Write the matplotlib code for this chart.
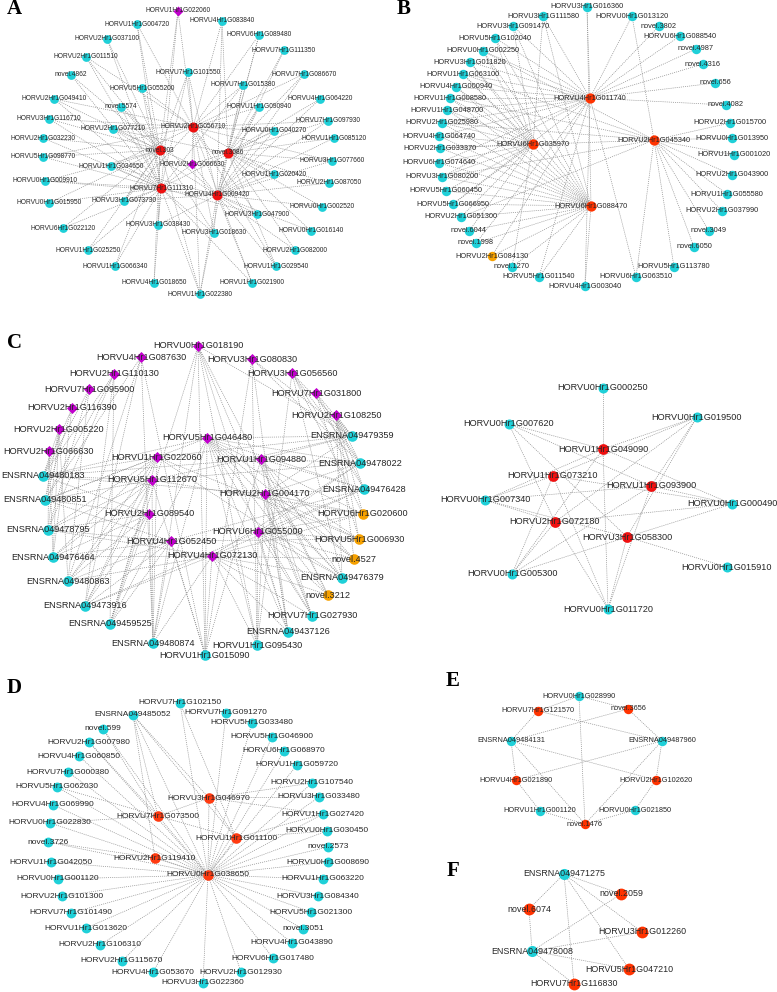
import matplotlib
matplotlib.use("Agg")
import matplotlib.pyplot as plt
from matplotlib.collections import LineCollection

plt.rcParams['font.family'] = ['Liberation Sans', 'DejaVu Sans']

# node tuples: (name, x, y, kind, links)
# kind: c = cyan, r = red, p = purple diamond, o = orange
# links: letters pointing at earlier nodes of the same list (a = first, b = second ...)

A_nodes = [
    ("HORVU2Hr1G056710", 193, 127, "r", ""),
    ("novel.303", 160, 150, "r", ""),
    ("novel.3086", 228, 153, "r", ""),
    ("HORVU7Hr1G111310", 161, 188, "r", ""),
    ("HORVU4Hr1G009420", 217, 195, "r", ""),
    ("HORVU1Hr1G022060", 178, 11, "p", "abd"),
    ("HORVU2Hr1G066630", 192, 164, "p", "abcde"),
    ("HORVU1Hr1G004720", 137, 24, "c", "abd"),
    ("HORVU4Hr1G083840", 222, 21, "c", "ace"),
    ("HORVU2Hr1G037100", 107, 39, "c", "bd"),
    ("HORVU6Hr1G089480", 259, 35, "c", "ace"),
    ("HORVU7Hr1G111350", 284, 50, "c", "ce"),
    ("HORVU2Hr1G011510", 86, 57, "c", "abd"),
    ("HORVU7Hr1G101550", 188, 72, "c", "abde"),
    ("novel.4862", 71, 75, "c", "bd"),
    ("HORVU7Hr1G086670", 304, 74, "c", "ace"),
    ("HORVU7Hr1G015380", 243, 85, "c", "acde"),
    ("HORVU5Hr1G055200", 142, 88, "c", "abd"),
    ("HORVU2Hr1G049410", 54, 99, "c", "abd"),
    ("HORVU4Hr1G064220", 320, 99, "c", "ce"),
    ("novel.5574", 121, 107, "c", "bde"),
    ("HORVU1Hr1G090940", 259, 107, "c", "ace"),
    ("HORVU3Hr1G116710", 49, 119, "c", "abd"),
    ("HORVU7Hr1G097930", 328, 121, "c", "ace"),
    ("HORVU2Hr1G077210", 113, 129, "c", "abce"),
    ("HORVU0Hr1G040270", 274, 131, "c", "acde"),
    ("HORVU2Hr1G032230", 43, 138, "c", "bd"),
    ("HORVU1Hr1G085120", 334, 138, "c", "ce"),
    ("HORVU5Hr1G098770", 43, 157, "c", "abd"),
    ("HORVU3Hr1G077660", 332, 161, "c", "ace"),
    ("HORVU1Hr1G034650", 111, 166, "c", "abde"),
    ("HORVU1Hr1G020420", 274, 174, "c", "ace"),
    ("HORVU0Hr1G009910", 45, 181, "c", "bde"),
    ("HORVU2Hr1G087050", 329, 183, "c", "ce"),
    ("HORVU0Hr1G015950", 49, 203, "c", "bd"),
    ("HORVU3Hr1G073730", 124, 201, "c", "abde"),
    ("HORVU0Hr1G002520", 322, 207, "c", "ce"),
    ("HORVU3Hr1G047900", 257, 214, "c", "ade"),
    ("HORVU3Hr1G038430", 158, 225, "c", "bde"),
    ("HORVU6Hr1G022120", 63, 228, "c", "bd"),
    ("HORVU0Hr1G016140", 311, 231, "c", "ce"),
    ("HORVU3Hr1G018630", 214, 233, "c", "abde"),
    ("HORVU1Hr1G025250", 88, 250, "c", "bd"),
    ("HORVU2Hr1G082000", 295, 250, "c", "ce"),
    ("HORVU1Hr1G066340", 115, 266, "c", "bd"),
    ("HORVU1Hr1G029540", 276, 266, "c", "ace"),
    ("HORVU4Hr1G018650", 154, 283, "c", "bd"),
    ("HORVU1Hr1G021900", 252, 283, "c", "ade"),
    ("HORVU1Hr1G022380", 200, 294, "c", "abcde"),
]

B_nodes = [
    ("HORVU4Hr1G011740", 590, 98, "r", ""),
    ("HORVU6Hr1G035970", 533, 144, "r", ""),
    ("HORVU2Hr1G045340", 654, 140, "r", ""),
    ("HORVU6Hr1G088470", 591, 206, "r", ""),
    ("HORVU3Hr1G016360", 587, 7, "c", "ad"),
    ("HORVU3Hr1G111580", 543, 16, "c", "abd"),
    ("HORVU0Hr1G013120", 632, 16, "c", "ac"),
    ("HORVU3Hr1G091470", 513, 26, "c", "abd"),
    ("novel.3802", 659, 26, "c", "a"),
    ("HORVU5Hr1G102040", 495, 38, "c", "abd"),
    ("HORVU6Hr1G088540", 680, 36, "c", "a"),
    ("HORVU0Hr1G002250", 483, 51, "c", "abcd"),
    ("novel.4987", 696, 49, "c", "a"),
    ("HORVU3Hr1G011820", 470, 62, "c", "abd"),
    ("novel.4316", 703, 64, "c", "a"),
    ("HORVU1Hr1G063100", 463, 74, "c", "abcd"),
    ("HORVU4Hr1G000940", 456, 87, "c", "abd"),
    ("novel.656", 715, 83, "c", "a"),
    ("HORVU1Hr1G008580", 450, 98, "c", "abcd"),
    ("novel.4082", 726, 105, "c", "a"),
    ("HORVU1Hr1G048700", 447, 110, "c", "abd"),
    ("HORVU2Hr1G025980", 442, 123, "c", "abcd"),
    ("HORVU2Hr1G015700", 730, 123, "c", "c"),
    ("HORVU4Hr1G064740", 439, 136, "c", "abd"),
    ("HORVU0Hr1G013950", 732, 138, "c", "c"),
    ("HORVU2Hr1G033370", 440, 148, "c", "bcd"),
    ("HORVU1Hr1G001020", 734, 155, "c", "c"),
    ("HORVU6Hr1G074640", 439, 163, "c", "abd"),
    ("HORVU2Hr1G043900", 732, 175, "c", "c"),
    ("HORVU3Hr1G080200", 442, 177, "c", "abcd"),
    ("HORVU5Hr1G060450", 446, 191, "c", "bd"),
    ("HORVU1Hr1G055580", 727, 194, "c", "c"),
    ("HORVU5Hr1G066950", 453, 204, "c", "abd"),
    ("HORVU2Hr1G037990", 722, 211, "c", "c"),
    ("HORVU2Hr1G051300", 461, 217, "c", "bcd"),
    ("novel.6044", 469, 231, "c", "bd"),
    ("novel.3049", 709, 231, "c", "c"),
    ("novel.1998", 476, 243, "c", "ad"),
    ("novel.6050", 694, 247, "c", "c"),
    ("HORVU2Hr1G084130", 492, 256, "o", "ad"),
    ("novel.1270", 512, 267, "c", "bd"),
    ("HORVU5Hr1G113780", 674, 267, "c", "c"),
    ("HORVU5Hr1G011540", 539, 277, "c", "ad"),
    ("HORVU6Hr1G063510", 636, 277, "c", "ac"),
    ("HORVU4Hr1G003040", 585, 286, "c", "ad"),
]

C1_nodes = [
    ("HORVU0Hr1G018190", 198, 346, "p", ""),
    ("HORVU4Hr1G087630", 141, 357, "p", ""),
    ("HORVU3Hr1G080830", 252, 359, "p", ""),
    ("HORVU2Hr1G110130", 114, 374, "p", ""),
    ("HORVU3Hr1G056560", 292, 373, "p", ""),
    ("HORVU7Hr1G095900", 89, 389, "p", ""),
    ("HORVU7Hr1G031800", 316, 393, "p", ""),
    ("HORVU2Hr1G116390", 72, 408, "p", ""),
    ("HORVU2Hr1G108250", 336, 415, "p", ""),
    ("HORVU2Hr1G005220", 59, 429, "p", ""),
    ("HORVU5Hr1G046480", 207, 438, "p", ""),
    ("HORVU2Hr1G066630", 49, 451, "p", ""),
    ("HORVU1Hr1G022060", 157, 457, "p", ""),
    ("HORVU1Hr1G094880", 261, 459, "p", ""),
    ("HORVU5Hr1G112670", 152, 480, "p", ""),
    ("HORVU2Hr1G004170", 265, 494, "p", ""),
    ("HORVU2Hr1G089540", 149, 514, "p", ""),
    ("HORVU6Hr1G055000", 258, 532, "p", ""),
    ("HORVU4Hr1G052450", 171, 541, "p", ""),
    ("HORVU4Hr1G072130", 212, 556, "p", ""),
    ("ENSRNA049479359", 352, 436, "c", "acegikmnop"),
    ("ENSRNA049478022", 360, 463, "c", "cegiknoprt"),
    ("ENSRNA049480183", 43, 476, "c", "dfhjkmnopq"),
    ("ENSRNA049476428", 364, 489, "c", "egiknprst"),
    ("ENSRNA049480851", 45, 500, "c", "bdhjkmoqs"),
    ("ENSRNA049478795", 48, 530, "c", "dfjlmoqst"),
    ("ENSRNA049476464", 53, 557, "c", "hjlmoqst"),
    ("ENSRNA049480863", 68, 581, "c", "bfjmoqst"),
    ("ENSRNA049476379", 342, 578, "c", "eikmnprt"),
    ("ENSRNA049473916", 85, 606, "c", "bdmoqrst"),
    ("HORVU7Hr1G027930", 312, 616, "c", "aknprt"),
    ("ENSRNA049459525", 110, 624, "c", "adkmoqs"),
    ("ENSRNA049437126", 288, 632, "c", "acknprt"),
    ("ENSRNA049480874", 153, 643, "c", "abkmoqst"),
    ("HORVU1Hr1G015090", 205, 655, "c", "abcknost"),
    ("HORVU1Hr1G095430", 257, 645, "c", "acekprt"),
    ("HORVU6Hr1G020600", 363, 514, "o", "eikoprt"),
    ("HORVU5Hr1G006930", 359, 539, "o", "gikmprs"),
    ("novel.4527", 354, 559, "o", "iknprt"),
    ("novel.3212", 328, 595, "o", "aknrt"),
]

C2_nodes = [
    ("HORVU1Hr1G049090", 603, 449, "r", ""),
    ("HORVU1Hr1G073210", 553, 476, "r", ""),
    ("HORVU1Hr1G093900", 651, 486, "r", ""),
    ("HORVU2Hr1G072180", 555, 522, "r", ""),
    ("HORVU3Hr1G058300", 627, 537, "r", ""),
    ("HORVU0Hr1G000250", 603, 388, "c", "a"),
    ("HORVU0Hr1G019500", 697, 417, "c", "abcde"),
    ("HORVU0Hr1G007620", 509, 424, "c", "acde"),
    ("HORVU0Hr1G007340", 485, 500, "c", "abcde"),
    ("HORVU0Hr1G000490", 732, 504, "c", "abcde"),
    ("HORVU0Hr1G005300", 512, 574, "c", "abcde"),
    ("HORVU0Hr1G015910", 727, 567, "c", "e"),
    ("HORVU0Hr1G011720", 608, 609, "c", "abcde"),
]

D_nodes = [
    ("HORVU3Hr1G046970", 209, 798, "r", ""),
    ("HORVU7Hr1G073500", 158, 816, "r", "a"),
    ("HORVU1Hr1G011100", 236, 838, "r", "ab"),
    ("HORVU2Hr1G119410", 155, 858, "r", ""),
    ("HORVU0Hr1G038650", 208, 875, "r", "abcd"),
    ("HORVU7Hr1G102150", 180, 703, "c", "ce"),
    ("ENSRNA049485052", 133, 715, "c", "abcde"),
    ("HORVU7Hr1G091270", 226, 713, "c", "e"),
    ("novel.599", 103, 729, "c", "be"),
    ("HORVU5Hr1G033480", 252, 723, "c", "e"),
    ("HORVU2Hr1G007980", 89, 742, "c", "be"),
    ("HORVU5Hr1G046900", 272, 737, "c", "e"),
    ("HORVU4Hr1G060850", 79, 756, "c", "e"),
    ("HORVU6Hr1G068970", 284, 751, "c", "e"),
    ("HORVU7Hr1G000380", 68, 772, "c", "e"),
    ("HORVU1Hr1G059720", 297, 765, "c", "e"),
    ("HORVU5Hr1G062030", 57, 787, "c", "be"),
    ("HORVU2Hr1G107540", 312, 783, "c", "ae"),
    ("HORVU3Hr1G033480", 319, 797, "c", "ae"),
    ("HORVU4Hr1G069990", 53, 805, "c", "e"),
    ("HORVU1Hr1G027420", 323, 814, "c", "ace"),
    ("HORVU0Hr1G022830", 50, 823, "c", "be"),
    ("HORVU0Hr1G030450", 327, 831, "c", "ce"),
    ("novel.3726", 48, 842, "c", "de"),
    ("novel.2573", 328, 847, "c", "e"),
    ("HORVU1Hr1G042050", 51, 862, "c", "e"),
    ("HORVU0Hr1G008690", 328, 862, "c", "e"),
    ("HORVU0Hr1G001120", 58, 879, "c", "e"),
    ("HORVU1Hr1G063220", 323, 879, "c", "e"),
    ("HORVU2Hr1G101300", 62, 896, "c", "e"),
    ("HORVU3Hr1G084340", 318, 896, "c", "e"),
    ("HORVU7Hr1G101490", 71, 913, "c", "e"),
    ("HORVU5Hr1G021300", 311, 912, "c", "e"),
    ("HORVU1Hr1G013620", 86, 928, "c", "e"),
    ("novel.3051", 303, 929, "c", "e"),
    ("HORVU2Hr1G106310", 100, 945, "c", "e"),
    ("HORVU4Hr1G043890", 292, 943, "c", "e"),
    ("HORVU6Hr1G017480", 273, 958, "c", "e"),
    ("HORVU2Hr1G115670", 122, 961, "c", "e"),
    ("HORVU4Hr1G053670", 153, 972, "c", "e"),
    ("HORVU2Hr1G012930", 241, 972, "c", "e"),
    ("HORVU3Hr1G022360", 203, 983, "c", "e"),
]

E_nodes = [
    ("HORVU7Hr1G121570", 538, 711, "r", ""),
    ("novel.3656", 628, 709, "r", ""),
    ("HORVU4Hr1G021890", 516, 780, "r", ""),
    ("HORVU2Hr1G102620", 656, 780, "r", ""),
    ("novel.1476", 585, 824, "r", ""),
    ("HORVU0Hr1G028990", 579, 696, "c", "abe"),
    ("ENSRNA049484131", 511, 741, "c", "abcde"),
    ("ENSRNA049487960", 662, 741, "c", "abcde"),
    ("HORVU1Hr1G001120", 540, 811, "c", "ce"),
    ("HORVU0Hr1G021850", 635, 810, "c", "de"),
]

F_nodes = [
    ("novel.2059", 621, 894, "r", ""),
    ("novel.6074", 529, 909, "r", ""),
    ("HORVU3Hr1G012260", 642, 932, "r", ""),
    ("HORVU5Hr1G047210", 629, 969, "r", ""),
    ("HORVU7Hr1G116830", 574, 984, "r", ""),
    ("ENSRNA049471275", 564, 874, "c", "abcde"),
    ("ENSRNA049478008", 532, 951, "c", "abcde"),
]

panel_letters = ["A", "B", "C", "D", "E", "F"]
letter_pos = [(14, 9), (404, 9), (14, 343), (14, 688), (453, 681), (453, 871)]

CYAN = "#1fd0d8"
PURPLE = "#c000cc"
ORANGE = "#f6a100"


def draw(ax, nodes, red, fs, sc, sr, sd=30):
    segs = []
    for name, x, y, kind, links in nodes:
        for ch in links:
            j = ord(ch) - 97
            segs.append([(x, y), (nodes[j][1], nodes[j][2])])
    ax.add_collection(LineCollection(segs, colors="#8f8f8f", linewidths=0.5,
                                     linestyles=(0, (1.5, 1.5)), zorder=1))
    colors = {"c": CYAN, "r": red, "p": PURPLE, "o": ORANGE}
    for kind in "copr":
        pts = [(n[1], n[2]) for n in nodes if n[3] == kind]
        if not pts:
            continue
        xs, ys = zip(*pts)
        if kind == "p":
            ax.scatter(xs, ys, s=sd, marker="D", c=colors[kind], linewidths=0, zorder=2)
        else:
            ax.scatter(xs, ys, s=sr if kind == "r" else sc, c=colors[kind], linewidths=0, zorder=2)
    for name, x, y, kind, links in nodes:
        ax.text(x, y, name, ha="center", va="center", fontsize=fs, color="#262626", zorder=3)


fig = plt.figure(figsize=(7.77, 9.92), dpi=100)
ax = fig.add_axes([0, 0, 1, 1])
ax.set_xlim(0, 777)
ax.set_ylim(992, 0)
ax.axis("off")

draw(ax, A_nodes, "#ee1010", 4.8, 40, 52, sd=26)
draw(ax, B_nodes, "#ff3300", 5.3, 46, 55)
draw(ax, C1_nodes, "#ff3300", 6.6, 58, 62, sd=32)
draw(ax, C2_nodes, "#f01010", 6.6, 52, 60)
draw(ax, D_nodes, "#ff3a10", 6.0, 50, 58)
draw(ax, E_nodes, "#ff3300", 5.3, 46, 46)
draw(ax, F_nodes, "#ff3300", 6.4, 64, 72)

for letter, (lx, ly) in zip(panel_letters, letter_pos):
    ax.text(lx, ly, letter, ha="center", va="center", fontsize=15, fontweight="bold",
            family="Liberation Serif", color="black")

fig.savefig("out.png", dpi=100)
